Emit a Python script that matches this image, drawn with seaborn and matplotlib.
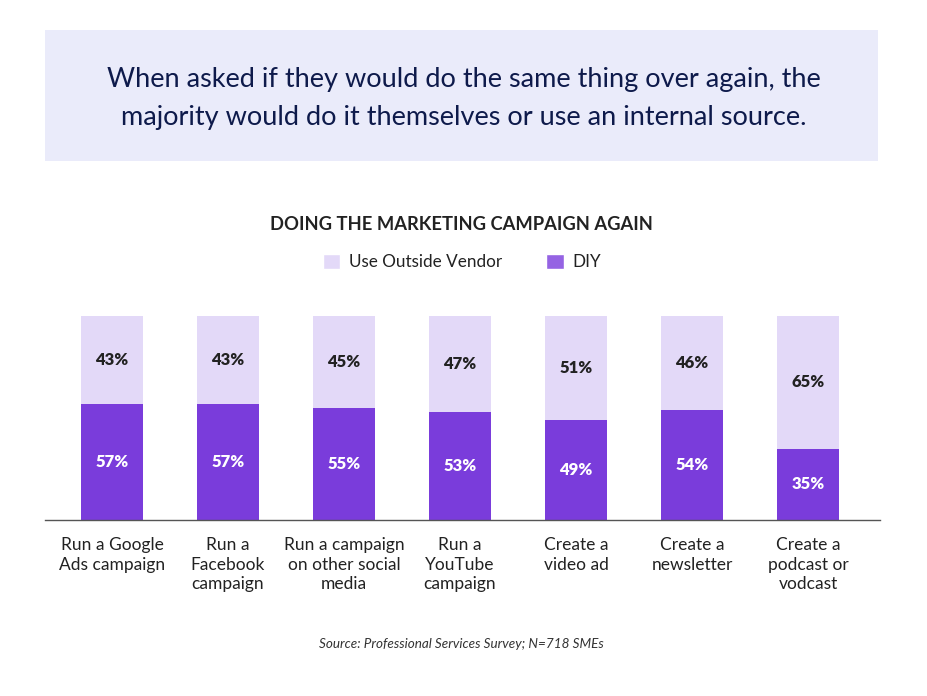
import matplotlib
matplotlib.use("Agg")
import matplotlib.pyplot as plt
import seaborn as sns
import pandas as pd
from matplotlib.patches import Patch, Rectangle

# Data
categories = [
    "Run a Google\nAds campaign",
    "Run a\nFacebook\ncampaign",
    "Run a campaign\non other social\nmedia",
    "Run a\nYouTube\ncampaign",
    "Create a\nvideo ad",
    "Create a\nnewsletter",
    "Create a\npodcast or\nvodcast",
]
diy = [57, 57, 55, 53, 49, 54, 35]
outside_vendor = [43, 43, 45, 47, 51, 46, 65]

DIY_COLOR = "#7A3CDB"
VENDOR_COLOR = "#E3D9F8"
NAVY = "#0E1A4B"
TEXT = "#222222"

sns.set_theme(style="white")
plt.rcParams["font.family"] = ["Lato", "DejaVu Sans"]

df = pd.DataFrame({
    "Category": categories,
    "DIY": diy,
    "Vendor": outside_vendor,
})
df["Total"] = df["DIY"] + df["Vendor"]

fig = plt.figure(figsize=(9.28, 6.96), dpi=100)
fig.patch.set_facecolor("white")

# Header box
fig.patches.append(Rectangle((45 / 928, 1 - 161 / 696), 833 / 928, 131 / 696,
                             transform=fig.transFigure, facecolor="#EAEBFA",
                             edgecolor="none", zorder=0))
fig.text(0.5, 1 - 98 / 696,
         "When asked if they would do the same thing over again, the\n"
         "majority would do it themselves or use an internal source.",
         ha="center", va="center", fontsize=19.5, color=NAVY, linespacing=1.65)

fig.text(461 / 928, 1 - 225 / 696, "DOING THE MARKETING CAMPAIGN AGAIN",
         ha="center", va="center", fontsize=13.2, fontweight="bold", color=TEXT)

ax = fig.add_axes([45 / 928, 1 - 520 / 696, 835 / 928, 204 / 696])

sns.barplot(data=df, x="Category", y="Total", color=VENDOR_COLOR, width=0.534,
            ax=ax, saturation=1, edgecolor="none")
sns.barplot(data=df, x="Category", y="DIY", color=DIY_COLOR, width=0.534,
            ax=ax, saturation=1, edgecolor="none")

for i, (d, v) in enumerate(zip(diy, outside_vendor)):
    ax.text(i, d / 2, f"{d}%", ha="center", va="center", fontsize=12,
            fontweight="heavy", color="white")
    ax.text(i, d + v / 2, f"{v}%", ha="center", va="center", fontsize=12,
            fontweight="heavy", color=TEXT)

ax.set_xlim(-0.578, 6.621)
ax.set_ylim(0, 100)
ax.set_xlabel("")
ax.set_ylabel("")
ax.set_yticks([])
for side in ["top", "right", "left"]:
    ax.spines[side].set_visible(False)
ax.spines["bottom"].set_color("#555555")
ax.spines["bottom"].set_linewidth(1)
ax.tick_params(axis="x", length=0, pad=12, labelsize=12.5, labelcolor=TEXT)
for lbl in ax.get_xticklabels():
    lbl.set_linespacing(1.3)
    lbl.set_va("top")

handles = [Patch(facecolor=VENDOR_COLOR, label="Use Outside Vendor"),
           Patch(facecolor="#9563E3", label="DIY")]
fig.legend(handles=handles, loc="center", bbox_to_anchor=(462 / 928, 1 - 262 / 696),
           ncol=2, frameon=False, fontsize=12.3, handlelength=1.0, handleheight=1.0,
           handletextpad=0.5, columnspacing=2.6, labelcolor=TEXT)

fig.text(461 / 928, 1 - 644 / 696, "Source: Professional Services Survey; N=718 SMEs",
         ha="center", va="center", fontsize=9.7, style="italic", color="#333333")

fig.savefig("out.png", dpi=100)
